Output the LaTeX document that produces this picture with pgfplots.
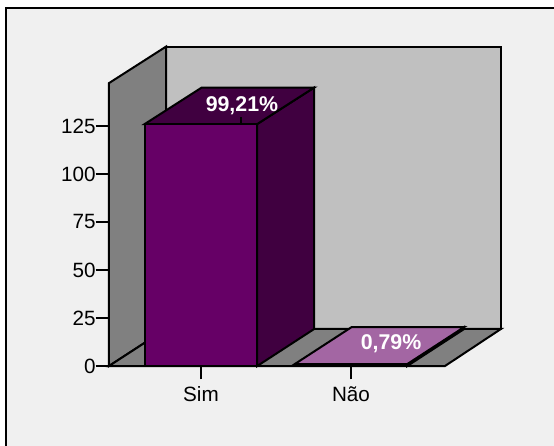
\documentclass[border=0pt]{standalone}
\usepackage{pgfplots}
\pgfplotsset{compat=1.18}
\usepackage{fontspec}
\setmainfont{Liberation Sans}
\definecolor{bgc}{HTML}{F0F0F0}
\definecolor{wallb}{HTML}{C0C0C0}
\definecolor{wallg}{HTML}{808080}
\definecolor{barf}{HTML}{660066}
\definecolor{bard}{HTML}{400040}
\definecolor{barl}{HTML}{A366A3}
\begin{document}
\begin{tikzpicture}[x=0.75pt,y=0.75pt]
\useasboundingbox (0,0) rectangle (554,-446);
\fill[white] (0,0) rectangle (554,-446);
\fill[bgc] (6,-8) rectangle (554,-446);
\draw[black,line width=1.5pt] (6,-446) -- (6,-8) -- (554,-8);
\begin{axis}[
  at={(109*0.75pt,-366*0.75pt)},anchor=origin,
  scale only axis,width=252pt,height=212.6pt,
  xmin=0.3867,xmax=2.6267,ymin=0,ymax=147.6,
  clip=false,
  axis x line*=bottom,axis y line*=left,
  axis line style={-,black,line width=1.5pt},
  xtick={1,2},xticklabels={Sim,Não},
  ytick={0,25,50,75,100,125},
  tick align=outside,
  major tick length=10pt,
  tick style={black,line width=1.5pt},
  tick label style={font=\fontsize{15.5}{15.5}\selectfont},
  /pgf/number format/assume math mode=true,
  yticklabel style={xshift=3.5pt},
  xticklabel style={yshift=-2pt},
]
% walls and floor
\addplot[draw=black,line width=1.5pt,fill=wallb,forget plot] coordinates {(0.7667,19.3)(3.0,19.3)(3.0,166.3)(0.7667,166.3)} -- cycle;
\addplot[draw=black,line width=1.5pt,fill=wallg,forget plot] coordinates {(0.3867,0)(0.3867,147.3)(0.7667,166.3)(0.7667,19.3)} -- cycle;
\addplot[draw=black,line width=1.5pt,fill=wallg,forget plot] coordinates {(0.3867,0)(2.6267,0)(3.0,19.3)(0.7667,19.3)} -- cycle;
% Não bar: depth faces
\addplot[draw=black,line width=1.5pt,fill=bard,forget plot] coordinates {(2.375,0)(2.375,1)(2.755,20.3)(2.755,19.3)} -- cycle;
\addplot[draw=black,line width=1.5pt,fill=barl,forget plot] coordinates {(1.625,1)(2.375,1)(2.755,20.3)(2.005,20.3)} -- cycle;
\addplot[ybar,bar width=0.75,bar shift=0pt,draw=black,line width=1.5pt,fill=barl,forget plot] coordinates {(2,1)};
% Sim bar: depth faces
\addplot[draw=black,line width=1.5pt,fill=bard,forget plot] coordinates {(1.375,0)(1.375,126)(1.755,145)(1.755,19.3)} -- cycle;
\addplot[draw=black,line width=1.5pt,fill=bard,forget plot] coordinates {(0.625,126)(1.375,126)(1.755,145)(1.005,145)} -- cycle;
\addplot[ybar,bar width=0.75,bar shift=0pt,draw=black,line width=1.5pt,fill=barf,forget plot] coordinates {(1,126)};
\addplot[draw=black,line width=1pt,forget plot] coordinates {(1.267,126)(1.267,129.6)};
\node[white,font=\bfseries\fontsize{16}{16}\selectfont,inner sep=0pt] at (axis cs:1.273,135.6) {99,21\%};
\node[white,font=\bfseries\fontsize{16}{16}\selectfont,inner sep=0pt] at (axis cs:2.267,11.4) {0,79\%};
\end{axis}
\end{tikzpicture}
\end{document}
